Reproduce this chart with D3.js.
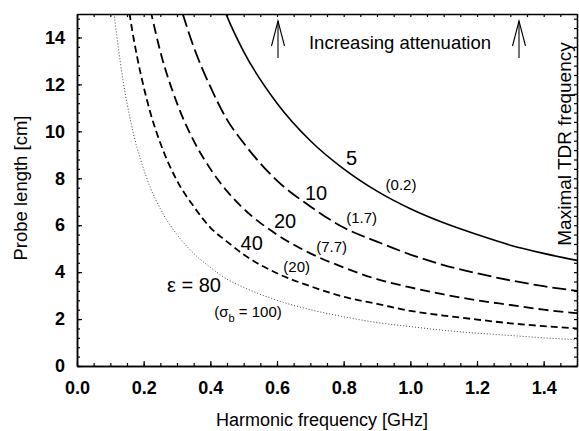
<!DOCTYPE html>
<html>
<head>
<meta charset="utf-8">
<script src="https://cdn.jsdelivr.net/npm/d3@7"></script>
<style>
  body { margin: 0; background: #fff; }
  text { font-family: "Liberation Sans", Arial, sans-serif; fill: #000; }
</style>
</head>
<body>
<div id="chart"></div>
<script>
// Data
const freqGHz = [0.10, 0.11, 0.12, 0.14, 0.16, 0.18, 0.20, 0.22, 0.25, 0.30, 0.35, 0.40,
                 0.45, 0.50, 0.60, 0.70, 0.80, 0.90, 1.00, 1.10, 1.20, 1.30, 1.40, 1.50];
const lenEps5  = [null, null, null, null, null, null, null, null, null, null, null, 16.8,
                  14.9, 13.4, 11.2, 9.6, 8.4, 7.45, 6.7, 6.1, 5.6, 5.15, 4.8, 4.5];
const lenEps10 = [null, null, null, null, null, null, null, null, null, 15.8, 13.6, 11.9,
                  10.5, 9.5, 7.9, 6.8, 5.9, 5.3, 4.75, 4.3, 3.95, 3.65, 3.4, 3.2];
const lenEps20 = [null, null, null, null, null, null, null, 15.2, 13.4, 11.2, 9.6, 8.4,
                  7.45, 6.7, 5.6, 4.8, 4.2, 3.7, 3.35, 3.05, 2.8, 2.6, 2.4, 2.25];
const lenEps40 = [null, null, null, 16.9, 14.8, 13.2, 11.9, 10.8, 9.5, 7.9, 6.8, 5.9,
                  5.3, 4.75, 3.95, 3.4, 2.95, 2.65, 2.35, 2.15, 1.98, 1.82, 1.7, 1.6];
const lenEps80 = [16.8, 15.2, 14.0, 12.0, 10.5, 9.3, 8.4, 7.6, 6.7, 5.6, 4.8, 4.2,
                  3.7, 3.35, 2.8, 2.4, 2.1, 1.85, 1.68, 1.52, 1.4, 1.3, 1.2, 1.12];

const xTicks = [0.0, 0.2, 0.4, 0.6, 0.8, 1.0, 1.2, 1.4];
const yTicks = [0, 2, 4, 6, 8, 10, 12, 14];

// curve labels: [freq, length, text]
const epsLabels = [[0.824, 8.86, "5"], [0.717, 7.38, "10"], [0.624, 6.18, "20"], [0.524, 5.23, "40"]];
const sigmaLabels = [[0.972, 7.71, "(0.2)"], [0.854, 6.31, "(1.7)"], [0.764, 5.08, "(7.7)"], [0.659, 4.23, "(20)"]];
const arrowFreqs = [0.603, 1.326];

const W = 579, H = 431;
const margin = {top: 14, right: 2, bottom: 65, left: 77};

const svg = d3.select("#chart").append("svg")
  .attr("width", W).attr("height", H);

const x = d3.scaleLinear().domain([0, 1.5]).range([margin.left, W - margin.right]);
const y = d3.scaleLinear().domain([0, 15]).range([H - margin.bottom, margin.top]);

svg.append("clipPath").attr("id", "plot")
  .append("rect")
  .attr("x", x(0)).attr("y", y(15))
  .attr("width", x(1.5) - x(0)).attr("height", y(0) - y(15));

// curves
const line = d3.line()
  .defined(d => d[1] != null)
  .x(d => x(d[0])).y(d => y(d[1]))
  .curve(d3.curveMonotoneX);

const series = [
  {vals: lenEps5,  dash: null,   width: 1.6, color: "#000"},
  {vals: lenEps10, dash: "14,5", width: 1.8, color: "#000"},
  {vals: lenEps20, dash: "10,5", width: 1.8, color: "#000"},
  {vals: lenEps40, dash: "7,4",  width: 1.8, color: "#000"},
  {vals: lenEps80, dash: "1,2",  width: 1,   color: "#444"}
];

svg.append("g").attr("clip-path", "url(#plot)")
  .selectAll("path")
  .data(series)
  .join("path")
  .attr("d", s => line(freqGHz.map((f, i) => [f, s.vals[i]])))
  .attr("fill", "none")
  .attr("stroke", s => s.color)
  .attr("stroke-width", s => s.width)
  .attr("stroke-dasharray", s => s.dash);

// axes (ticks inward)
const minorX = d3.range(0, 1.5001, 0.05);
const minorY = d3.range(0, 15.01, 0.4);

function styleAxis(g) {
  g.selectAll("path.domain").attr("stroke-width", 1.5);
  g.selectAll(".tick line").attr("stroke-width", 1.2);
}

svg.append("g").attr("transform", `translate(0,${y(0)})`)
  .call(d3.axisBottom(x).tickValues(minorX).tickSize(-3).tickSizeOuter(0).tickFormat(""))
  .call(styleAxis);
svg.append("g").attr("transform", `translate(0,${y(0)})`)
  .call(d3.axisBottom(x).tickValues(xTicks).tickSize(-5).tickSizeOuter(0)
    .tickPadding(15).tickFormat(d3.format(".1f")))
  .call(styleAxis)
  .call(g => g.selectAll("text").attr("font-size", 18).attr("font-weight", "bold")
    .attr("font-family", "Liberation Sans, Arial, sans-serif"));

svg.append("g").attr("transform", `translate(0,${y(15)})`)
  .call(d3.axisTop(x).tickValues(minorX).tickSize(-3).tickSizeOuter(0).tickFormat(""))
  .call(styleAxis);

svg.append("g").attr("transform", `translate(${x(0)},0)`)
  .call(d3.axisLeft(y).tickValues(minorY).tickSize(-3).tickSizeOuter(0).tickFormat(""))
  .call(styleAxis);
svg.append("g").attr("transform", `translate(${x(0)},0)`)
  .call(d3.axisLeft(y).tickValues(yTicks).tickSize(-5).tickSizeOuter(0).tickPadding(12))
  .call(styleAxis)
  .call(g => g.selectAll("text").attr("font-size", 18).attr("font-weight", "bold")
    .attr("font-family", "Liberation Sans, Arial, sans-serif"));

svg.append("g").attr("transform", `translate(${x(1.5)},0)`)
  .call(d3.axisRight(y).tickValues(minorY).tickSize(-3).tickSizeOuter(0).tickFormat(""))
  .call(styleAxis);

// axis titles
svg.append("text")
  .attr("x", 322).attr("y", 426)
  .attr("text-anchor", "middle").attr("font-size", 18)
  .text("Harmonic frequency [GHz]");

svg.append("text")
  .attr("transform", "translate(27,188) rotate(-90)")
  .attr("text-anchor", "middle").attr("font-size", 18.5)
  .text("Probe length [cm]");

svg.append("text")
  .attr("transform", "translate(571,144) rotate(-90)")
  .attr("text-anchor", "middle").attr("font-size", 19)
  .text("Maximal TDR frequency");

// top annotation
svg.append("text")
  .attr("x", x(0.969)).attr("y", 49)
  .attr("text-anchor", "middle").attr("font-size", 18.5)
  .text("Increasing attenuation");

const arrows = svg.append("g").attr("stroke", "#000").attr("stroke-width", 1.1).attr("fill", "none");
arrowFreqs.forEach(f => {
  const ax = x(f);
  arrows.append("line").attr("x1", ax).attr("x2", ax).attr("y1", 21).attr("y2", 58);
  arrows.append("path").attr("d", `M${ax - 6.5},46 L${ax},21 L${ax + 6.5},46`);
});

// curve labels
svg.append("g").selectAll("text")
  .data(epsLabels).join("text")
  .attr("x", d => x(d[0])).attr("y", d => y(d[1]))
  .attr("dy", "0.36em").attr("text-anchor", "middle").attr("font-size", 20)
  .text(d => d[2]);

svg.append("g").selectAll("text")
  .data(sigmaLabels).join("text")
  .attr("x", d => x(d[0])).attr("y", d => y(d[1]))
  .attr("dy", "0.36em").attr("text-anchor", "middle").attr("font-size", 15)
  .text(d => d[2]);

svg.append("text")
  .attr("x", x(0.351)).attr("y", y(3.45)).attr("dy", "0.36em")
  .attr("text-anchor", "middle").attr("font-size", 20)
  .text("\u03B5 = 80");

const sig = svg.append("text")
  .attr("x", x(0.513)).attr("y", y(2.31)).attr("dy", "0.36em")
  .attr("text-anchor", "middle").attr("font-size", 15);
sig.append("tspan").text("(\u03C3");
sig.append("tspan").attr("dy", 5).attr("font-size", 11).text("b");
sig.append("tspan").attr("dy", -5).text(" = 100)");
</script>
</body>
</html>
